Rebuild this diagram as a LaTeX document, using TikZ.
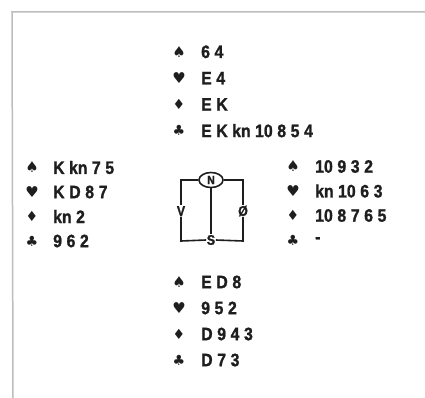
\documentclass[tikz,border=0pt]{standalone}
\usepackage{fontspec}
\setmainfont{Liberation Sans}
\newfontfamily\cardfont[FakeStretch=0.88,FakeBold=1.2]{Liberation Sans Bold}
\newfontfamily\symfont{DejaVu Sans}
\usetikzlibrary{shapes.geometric}
\newcommand\spd{{\symfont\fontsize{15}{15}\selectfont ♠}}
\newcommand\hrt{{\symfont\fontsize{15}{15}\selectfont ♥}}
\newcommand\dmd{{\symfont\fontsize{14}{14}\selectfont ♦}}
\newcommand\clb{{\symfont\fontsize{14}{14}\selectfont ♣}}
\newcommand\gp{\hspace{4.6pt}}
\definecolor{ink}{HTML}{1E1E1E}
\definecolor{frame}{HTML}{BDBDBD}
\tikzset{
  suit/.style={inner sep=0pt, text=ink},
  card/.style={anchor=west, inner sep=0pt, text=ink, font=\cardfont\fontsize{18}{18}\selectfont},
  comp/.style={inner sep=0.5pt, text=ink, font=\cardfont\fontsize{14}{14}\selectfont},
  wire/.style={draw=ink, line width=1.6pt}
}
\begin{document}
\begin{tikzpicture}[x=1pt,y=-1pt]
\useasboundingbox (0,0) rectangle (425,398);
\fill[white] (0,0) rectangle (425,398);
\coordinate (fa) at (12,12);
\coordinate (fb) at (425,12);
\coordinate (fc) at (13,398);
\draw[frame, line width=1.5pt] (fb) -- (fa) -- (fc);
% North
\foreach \sym/\txt [count=\i] in {{\spd}/{6\gp 4},{\hrt}/{E\gp 4},{\dmd}/{E\gp K},{\clb}/{E\gp K kn 10\gp 8\gp 5\gp 4}} {
  \node[suit] (ns\i) at (179, 25.5+26.3*\i) {\sym};
  \node[card] (nt\i) at (201, 25.5+26.3*\i) {\txt};
}
% West
\foreach \sym/\txt [count=\i] in {{\spd}/{K kn 7\gp 5},{\hrt}/{K\gp D\gp 8\gp 7},{\dmd}/{kn 2},{\clb}/{9\gp 6\gp 2}} {
  \node[suit] (ws\i) at (32, 143+24.5*\i) {\sym};
  \node[card] (wt\i) at (53, 143+24.5*\i) {\txt};
}
% East
\foreach \sym/\txt [count=\i] in {{\spd}/{10\gp 9\gp 3\gp 2},{\hrt}/{kn 10\gp 6\gp 3},{\dmd}/{10\gp 8\gp 7\gp 6\gp 5},{\clb}/{-}} {
  \node[suit] (es\i) at (293, 142+24.5*\i) {\sym};
  \node[card] (et\i) at (315, 142+24.5*\i) {\txt};
}
% South
\foreach \sym/\txt [count=\i] in {{\spd}/{E\gp D\gp 8},{\hrt}/{9\gp 5\gp 2},{\dmd}/{D\gp 9\gp 4\gp 3},{\clb}/{D\gp 7\gp 3}} {
  \node[suit] (ss\i) at (179, 256+26*\i) {\sym};
  \node[card] (st\i) at (201, 256+26*\i) {\txt};
}
% Compass
\node[comp, draw=ink, line width=1.6pt, ellipse, minimum width=24pt, minimum height=15pt, inner sep=0pt, font=\cardfont\fontsize{12}{12}\selectfont] (cN) at (211,180) {N};
\node[comp] (cV) at (181,211) {V};
\node[comp] (cO) at (243,211) {Ø};
\node[comp] (cS) at (211,240) {S};
\coordinate (tl) at (181,180);
\coordinate (tr) at (243,180);
\coordinate (bl) at (181,241);
\coordinate (br) at (243,241);
\draw[wire] (cN.west) -- (tl) -- (cV.north);
\draw[wire] (cV.south) -- (bl) -- (cS.west);
\draw[wire] (cS.east) -- (br) -- (cO.south);
\draw[wire] (cO.north) -- (tr) -- (cN.east);
\draw[wire] (cN.south) -- (cS.north);
\end{tikzpicture}
\end{document}
